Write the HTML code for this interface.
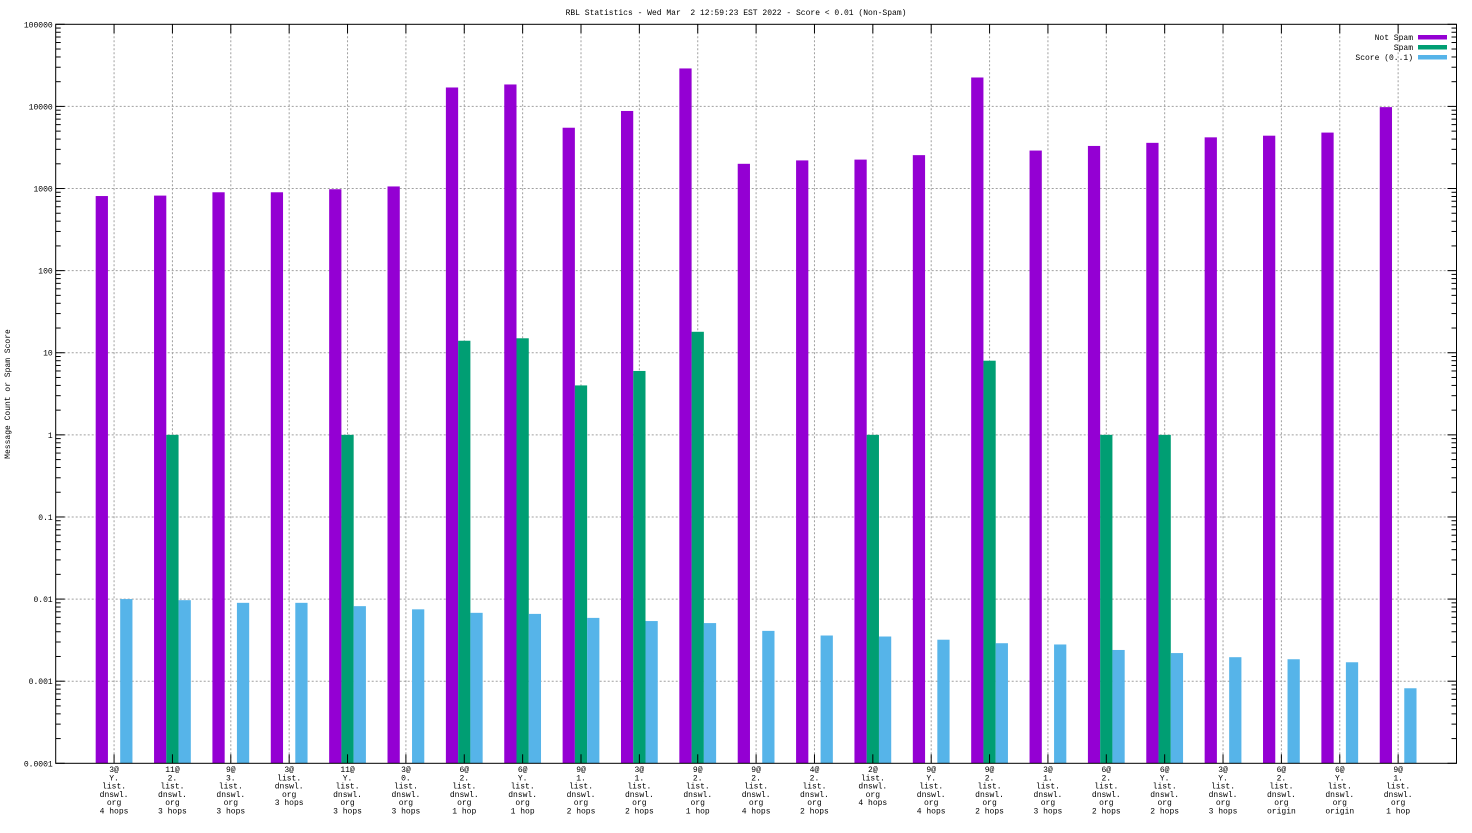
<!DOCTYPE html>
<html><head><meta charset="utf-8"><style>
html,body{margin:0;padding:0;background:#fff;}
svg text{font-family:"Liberation Mono",monospace;font-size:8px;fill:#000;white-space:pre;}
</style></head><body>
<svg id="chart" width="1472" height="828" xmlns="http://www.w3.org/2000/svg">
<text x="736" y="15" text-anchor="middle" xml:space="preserve">RBL Statistics - Wed Mar  2 12:59:23 EST 2022 - Score &lt; 0.01 (Non-Spam)</text>
<text transform="translate(10,394) rotate(-90)" text-anchor="middle">Message Count or Spam Score</text>
<g id="grid"></g><g id="bars"></g><g id="axes"></g><g id="legend"></g>
</svg>
<script>
const categories=[
["3@","Y.","list.","dnswl.","org","4 hops"],["11@","2.","list.","dnswl.","org","3 hops"],["9@","3.","list.","dnswl.","org","3 hops"],["3@","list.","dnswl.","org","3 hops"],["11@","Y.","list.","dnswl.","org","3 hops"],["3@","0.","list.","dnswl.","org","3 hops"],["6@","2.","list.","dnswl.","org","1 hop"],["6@","Y.","list.","dnswl.","org","1 hop"],["9@","1.","list.","dnswl.","org","2 hops"],["3@","1.","list.","dnswl.","org","2 hops"],["9@","2.","list.","dnswl.","org","1 hop"],["9@","2.","list.","dnswl.","org","4 hops"],["4@","2.","list.","dnswl.","org","2 hops"],["2@","list.","dnswl.","org","4 hops"],["9@","Y.","list.","dnswl.","org","4 hops"],["9@","2.","list.","dnswl.","org","2 hops"],["3@","1.","list.","dnswl.","org","3 hops"],["6@","2.","list.","dnswl.","org","2 hops"],["6@","Y.","list.","dnswl.","org","2 hops"],["3@","Y.","list.","dnswl.","org","3 hops"],["6@","2.","list.","dnswl.","org","origin"],["6@","Y.","list.","dnswl.","org","origin"],["9@","1.","list.","dnswl.","org","1 hop"]];
const notSpam=[810,820,900,900,980,1060,17000,18500,5500,8800,29000,2000,2200,2250,2550,22500,2900,3300,3600,4200,4400,4800,9800];
const spam=[0,1,0,0,1,0,14,15,4,6,18,0,0,1,0,8,0,1,1,0,0,0,0];
const score=[0.0100,0.0097,0.0090,0.0090,0.0082,0.0075,0.0068,0.0066,0.0059,0.0054,0.0051,0.0041,0.0036,0.0035,0.0032,0.0029,0.0028,0.0024,0.0022,0.00196,0.00185,0.0017,0.00082];
const yTicks=[0.0001,0.001,0.01,0.1,1,10,100,1000,10000,100000];
const yTickLabels=["0.0001","0.001","0.01","0.1","1","10","100","1000","10000","100000"];
const seriesNames=["Not Spam","Spam","Score (0..1)"];
const colors=["#9400d3","#009e73","#56b4e9"];
const L=55.7,R=1456.5,T=24.3,B=763.3;
const ymin=-4,ymax=5;
const y=v=>B-(Math.log10(v)-ymin)/(ymax-ymin)*(B-T);
const xu=(R-L)/24;
const x=i=>L+(i+1)*xu;
const NS="http://www.w3.org/2000/svg";
function mk(tag,attrs,parent){const e=document.createElementNS(NS,tag);for(const k in attrs)e.setAttribute(k,attrs[k]);document.getElementById(parent).appendChild(e);return e;}
yTicks.forEach((t,i)=>{
 if(i>0&&i<yTicks.length-1){const g=mk("line",{x1:L,x2:R,y1:y(t),y2:y(t),stroke:"#a0a0a0","stroke-dasharray":"2,2","stroke-width":1},"grid");
 
 }
 const tl=mk("text",{x:L-3,y:y(t)+3,"text-anchor":"end"},"axes");tl.textContent=yTickLabels[i];
 
 
 mk("line",{x1:L,x2:L+9,y1:y(t),y2:y(t),stroke:"#000"},"axes");
 mk("line",{x1:R,x2:R-9,y1:y(t),y2:y(t),stroke:"#000"},"axes");
 if(i<yTicks.length-1){for(let m=2;m<10;m++){const yy=y(t*m);
  mk("line",{x1:L,x2:L+5,y1:yy,y2:yy,stroke:"#000"},"axes");
  mk("line",{x1:R,x2:R-5,y1:yy,y2:yy,stroke:"#000"},"axes");}}
});
categories.forEach((c,i)=>{
 const cx=x(i);
 const g=mk("line",{x1:cx,x2:cx,y1:T,y2:B,stroke:"#a0a0a0","stroke-dasharray":"2,2"},"grid");
 
 
 mk("line",{x1:cx,x2:cx,y1:B,y2:B-9,stroke:"#000"},"axes");
 mk("line",{x1:cx,x2:cx,y1:T,y2:T+9,stroke:"#000"},"axes");
 const t=mk("text",{x:cx,y:772,"text-anchor":"middle"},"axes");
 
 
 c.forEach((ln,k)=>{const s=document.createElementNS(NS,"tspan");s.setAttribute("x",cx);s.setAttribute("dy",k?8.3:0);s.textContent=ln;t.appendChild(s);});
 [notSpam,spam,score].forEach((arr,s)=>{const v=arr[i];if(!(v>0))return;
  const w=0.21*xu;const bx=cx+(s-1)*w-w/2;
  const r=mk("rect",{x:bx,y:y(v),width:w,height:B-y(v),fill:colors[s]},"bars");
  
  });
});
const fr=mk("rect",{x:L,y:T,width:R-L,height:B-T,fill:"none",stroke:"#000"},"axes");


seriesNames.forEach((n,s)=>{const yy=37+s*10;
 const t=mk("text",{x:1413,y:yy+3,"text-anchor":"end"},"legend");t.textContent=n;
 
 
 const r=mk("rect",{x:1418,y:yy-2,width:29,height:4.5,fill:colors[s]},"legend");
 
 });
</script>
</body></html>
